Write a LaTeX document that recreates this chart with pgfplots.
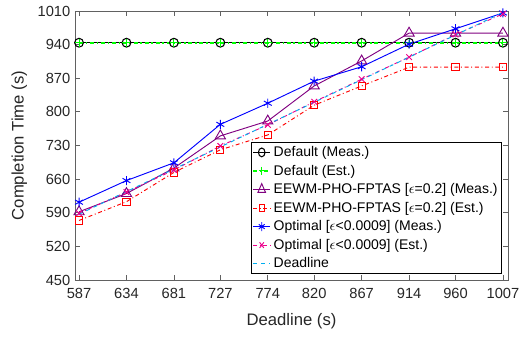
\documentclass[border=0pt]{standalone}
\usepackage{pgfplots}
\pgfplotsset{compat=1.18}
\usepackage{fontspec}
\setmainfont{Liberation Sans}
\definecolor{axgray}{rgb}{0.38,0.38,0.38}
\definecolor{txtgray}{rgb}{0.15,0.15,0.15}
\definecolor{mpurple}{rgb}{0.5,0,0.5}
\begin{document}
\begin{tikzpicture}
\begin{axis}[
  at={(0,0)}, anchor=south west,
  scale only axis, width=324.75pt, height=201.75pt,
  xmin=583, xmax=1012, ymin=450, ymax=1010,
  xtick={587,634,681,727,774,820,867,914,960,1007},
  ytick={450,520,590,660,730,800,870,940,1010},
  tick align=inside, major tick length=4pt,
  axis line style={axgray, line width=0.7pt},
  every tick/.style={axgray, line width=0.6pt},
  tick label style={font=\fontsize{11}{13}\selectfont, text=txtgray},
  xticklabel style={yshift=-3pt},
  /pgf/number format/assume math mode=true,
  /pgf/number format/1000 sep={},
  xlabel={Deadline (s)}, ylabel={Completion Time (s)},
  xlabel style={yshift=-4pt},
  ylabel style={yshift=1pt},
  label style={font=\fontsize{12.5}{14}\selectfont, text=txtgray},
  legend style={at={(0.986,0.022)}, anchor=south east, draw=black, line width=0.5pt,
    font=\fontsize{10.5}{12}\selectfont, inner sep=1pt, row sep=0.8pt, fill=white},
  legend cell align=left,
  legend image post style={xscale=0.75},
]
\addplot[black, line width=0.7pt, mark=o, mark size=3.3pt, mark options={solid, line width=0.8pt}] coordinates {
(587,944) (634,944) (681,944) (727,944) (774,944) (820,944) (867,944) (914,944) (960,944) (1007,944)};
\addlegendentry{Default (Meas.)}
\addplot[green, line width=1.2pt, dash dot, mark=+, mark size=3pt, mark options={solid, line width=0.8pt}] coordinates {
(587,944) (634,944) (681,944) (727,944) (774,944) (820,944) (867,944) (914,944) (960,944) (1007,944)};
\addlegendentry{Default (Est.)}
\addplot[mpurple, line width=0.7pt, mark=triangle, mark size=4.4pt, mark options={solid, line width=0.7pt}] coordinates {
(587,592) (634,630) (681,683) (727,750) (774,781) (820,854) (867,906) (914,964) (960,964) (1007,964)};
\addlegendentry{EEWM-PHO-FPTAS [$\epsilon$=0.2] (Meas.)}
\addplot[red, line width=0.7pt, dash dot, mark=square, mark size=2.7pt, mark options={solid, line width=0.7pt}] coordinates {
(587,574) (634,613) (681,674) (727,721) (774,752) (820,814) (867,854) (914,893) (960,893) (1007,893)};
\addlegendentry{EEWM-PHO-FPTAS [$\epsilon$=0.2] (Est.)}
\addplot[blue, line width=0.7pt, mark=asterisk, mark size=3.4pt, mark options={solid, line width=0.7pt}] coordinates {
(587,612) (634,657) (681,694) (727,774) (774,818) (820,864) (867,894) (914,941) (960,973) (1007,1006)};
\addlegendentry{Optimal [$\epsilon$<0.0009] (Meas.)}
\addplot[magenta, line width=0.7pt, dash dot, mark=x, mark size=3pt, mark options={solid, line width=0.7pt}] coordinates {
(587,589) (634,633) (681,679) (727,729) (774,773) (820,821) (867,868) (914,914) (960,961) (1007,1004)};
\addlegendentry{Optimal [$\epsilon$<0.0009] (Est.)}
\addplot[cyan, line width=0.7pt, dashed] coordinates {
(587,587) (634,634) (681,681) (727,727) (774,774) (820,820) (867,867) (914,914) (960,960) (1007,1007)};
\addlegendentry{Deadline}
\end{axis}
\pgfresetboundingbox
\useasboundingbox (-56.25pt,-42.75pt) rectangle (338.25pt,210pt);
\end{tikzpicture}
\end{document}
